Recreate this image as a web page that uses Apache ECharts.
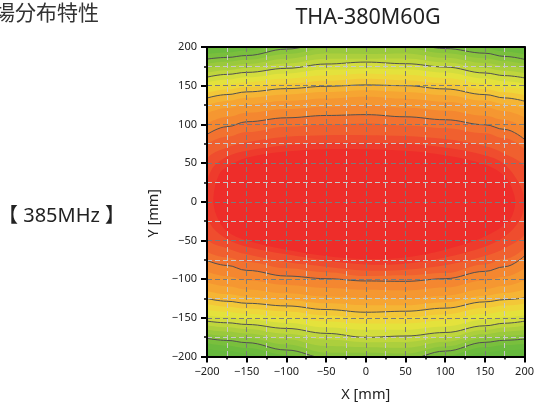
<!DOCTYPE html>
<html><head><meta charset="utf-8">
<script src="https://cdn.jsdelivr.net/npm/echarts@6/dist/echarts.min.js"></script>
<style>html,body{margin:0;padding:0;background:#fff}#c{width:537px;height:407px}</style>
</head><body><div id="c"></div>
<script>
// x positions (mm) where band boundaries were read
const xPos = [-200, -175, -150, -100, -50, 0, 50, 100, 150, 175, 200];
// upper boundaries (y, mm) of each field level
const top01 = [204, 206, 208.5, 217, 225, 227, 225, 218, 211.5, 207.5, 203.5];
const top02 = [197.5, 199.5, 202, 210, 218, 220, 218, 211, 205, 201, 197];
const top03 = [191, 193, 195.5, 204, 212, 214, 212, 205, 198.5, 194.3, 190.5];
const top04 = [184.4, 186.5, 189, 197.3, 205, 207, 205, 198, 192, 187.8, 184];
const top05 = [178.5, 181, 183.5, 191, 198.2, 197.7, 198.4, 192, 185.6, 181.6, 178];
const top06 = [172.7, 175.5, 178, 184.8, 191.5, 191, 191.7, 186, 179.2, 175.4, 172];
const top07 = [166.9, 170, 172.7, 178.6, 184.7, 184.8, 185, 180, 172.8, 169.2, 166];
const top08 = [161, 164.6, 167.2, 172.4, 178, 180.5, 178.4, 174.1, 166.4, 163, 160];
const top09 = [154.2, 158, 160.9, 165.9, 170.8, 172, 171.3, 167, 159.4, 155.8, 152.5];
const top10 = [147.5, 151.5, 154.6, 159.3, 163.6, 165.5, 164.2, 160, 152.5, 148.6, 145];
const top11 = [140.8, 145, 148.3, 152.8, 156.4, 159.1, 157.1, 152.9, 145.5, 141.4, 137.5];
const top12 = [134, 138.5, 142, 146.2, 149.2, 151, 150, 145.8, 138.5, 134.2, 130];
const top13 = [124.6, 130.2, 134.3, 138.7, 141.7, 144, 142, 137.8, 130.7, 126.1, 120.1];
const top14 = [114.3, 121.1, 125.8, 130.4, 133.4, 135.6, 133.1, 129.1, 122.1, 117.1, 109.3];
const top15 = [101.1, 109.5, 115, 119.8, 122.8, 124.8, 121.9, 118, 111.2, 105.7, 95.4];
const top16 = [87, 97, 103.4, 108.5, 111.5, 112.6, 109.8, 106, 99.5, 93.5, 80.6];
const top17 = [75, 84, 90, 97, 99.5, 101, 98.5, 95, 88.5, 82, 68];
// lower boundaries (y, mm) of each field level
const bot01 = [-197, -200, -203, -212, -222, -228, -225, -213, -202, -199, -197];
const bot02 = [-190, -193, -196, -205, -215, -221, -218, -206, -195, -192, -190.5];
const bot03 = [-183, -186, -189, -198, -208, -214, -211, -199, -188, -185.5, -184];
const bot04 = [-176.6, -179.2, -182.1, -191.6, -202, -207, -204, -193, -181.7, -179, -177.5];
const bot05 = [-171, -173.5, -176.2, -184.6, -195, -195, -196, -187, -176.4, -173.5, -171.7];
const bot06 = [-165.5, -167.8, -170.4, -177.7, -186.5, -188, -188.8, -181, -171, -168, -165.9];
const bot07 = [-159.9, -162.1, -164.5, -170.7, -178, -181.5, -181.1, -175, -165.7, -162.5, -160.1];
const bot08 = [-154.3, -156.4, -158.6, -163.7, -170.1, -175.2, -173.5, -169, -160.3, -157, -154.3];
const bot09 = [-147, -149.4, -151.8, -156.4, -162.4, -165.5, -165.5, -161.1, -152.6, -149.4, -146.8];
const bot10 = [-139.7, -142.5, -144.9, -149.2, -154.7, -157.5, -157.5, -153.3, -144.9, -141.8, -139.3];
const bot11 = [-132.3, -135.6, -138.1, -141.9, -147, -150, -149.5, -145.4, -137.1, -134.1, -131.8];
const bot12 = [-125, -128.6, -131.2, -134.6, -139.3, -142.8, -141.5, -137.5, -129.4, -126.5, -124.3];
const bot13 = [-115.2, -119.3, -122.7, -126.9, -131.3, -133.8, -133.8, -129.9, -121.5, -118, -113.4];
const bot14 = [-104.4, -109.2, -113.3, -118.4, -122.6, -124, -125.3, -121.5, -112.9, -108.7, -101.5];
const bot15 = [-90.6, -96.2, -101.5, -107.6, -111.4, -113.7, -114.5, -110.8, -101.8, -96.8, -86.3];
const bot16 = [-75.9, -82.3, -88.7, -96, -99.4, -102.4, -102.9, -99.4, -90, -84, -70];
const bot17 = [-65, -72, -78, -86, -91, -96, -95, -92, -81, -74, -60];
// closed inner level boundaries [x, y] (mm)
const loop18 = [[-212,0],[-200,55],[-175,70],[-150,77],[-100,84],[-50,86],[0,86],[50,85],[100,81],[150,72],[175,62],[200,45],[210,0],[200,-42],[175,-60],[150,-70],[100,-82],[50,-88],[0,-89],[-50,-84],[-100,-78],[-150,-68],[-175,-60],[-200,-48]];
const loop19 = [[-204,0],[-195,40],[-175,58],[-150,66],[-100,73],[-50,76],[0,76],[50,75],[100,70],[150,60],[175,48],[195,20],[199,0],[195,-22],[175,-45],[150,-58],[100,-72],[50,-80],[0,-81],[-50,-76],[-100,-68],[-150,-58],[-175,-48],[-195,-30]];
const loop20 = [[-192,5],[-185,35],[-175,45],[-150,57],[-100,65],[-50,68],[0,68],[50,66],[100,60],[150,48],[175,33],[186,12],[188,-5],[180,-25],[150,-45],[100,-62],[50,-72],[0,-74],[-50,-70],[-100,-62],[-150,-50],[-175,-38],[-188,-18]];
const contourLevels = [4, 8, 12, 16];
const axisTicks = [-200, -150, -100, -50, 0, 50, 100, 150, 200];

const levelColors = ['#62b73d','#66b93d','#6cbb3d','#79bf3d','#89c43d','#9ac93d','#accf3d','#bfd63d','#d3dd3e','#e4e23c','#eed73a','#f3c738','#f5b535','#f6a532','#f59731','#f48730','#f27230','#f0602f','#ef4d2e','#ee3b2c','#ee2d2a'];
const tops = [null, top01, top02, top03, top04, top05, top06, top07, top08, top09, top10, top11, top12, top13, top14, top15, top16, top17];
const bots = [null, bot01, bot02, bot03, bot04, bot05, bot06, bot07, bot08, bot09, bot10, bot11, bot12, bot13, bot14, bot15, bot16, bot17];
const loops = {18: loop18, 19: loop19, 20: loop20};

const FONT = '"Noto Sans", "Noto Sans CJK JP", sans-serif';
const pairs = arr => xPos.map((x, i) => [x, arr[i]]);
function fillSeries(arr, color, z) {
  return {type: 'line', data: pairs(arr), smooth: 0.4, smoothMonotone: 'x', symbol: 'none', silent: true,
    clip: true, z: z, lineStyle: {opacity: 0, width: 0}, areaStyle: {color: color, opacity: 1, origin: 'start'}};
}
const series = [];
for (let k = 1; k <= 17; k++) series.push(fillSeries(tops[k], levelColors[k], 1));
for (let k = 17; k >= 1; k--) series.push(fillSeries(bots[k], levelColors[k - 1], 1));
[18, 19, 20].forEach(k => {
  const pts = loops[k];
  series.push({type: 'custom', clip: true, silent: true, z: 1, data: [0],
    renderItem: (params, api) => {
      const cs = params.coordSys;
      return {type: 'group', clipPath: {type: 'rect', shape: {x: cs.x, y: cs.y, width: cs.width, height: cs.height}},
        children: [{type: 'polygon', shape: {points: pts.map(p => api.coord(p)), smooth: 0.35}, style: {fill: levelColors[k]}}]};
    }});
});
contourLevels.forEach(k => {
  [tops[k], bots[k]].forEach(arr => series.push({type: 'line', data: pairs(arr), smooth: 0.4, smoothMonotone: 'x',
    symbol: 'none', silent: true, clip: true, z: 3, lineStyle: {color: '#505050', width: 1}}));
});

const fmt = v => axisTicks.includes(v) ? (v < 0 ? '\u2212' + Math.abs(v) : String(v)) : '';
const mainAxis = (extra) => Object.assign({
  type: 'value', min: -200, max: 200, interval: 50, z: 10,
  axisLine: {show: true, onZero: false, lineStyle: {color: '#000', width: 2}},
  axisTick: {show: true, length: 6, lineStyle: {color: '#000', width: 2}},
  minorTick: {show: true, splitNumber: 2, length: 3, lineStyle: {color: '#000', width: 1.5}},
  splitLine: {show: true, lineStyle: {color: '#7a7a7a', width: 1, type: [5, 3]}},
  minorSplitLine: {show: true, lineStyle: {color: '#c8c8c8', width: 1, type: [5, 3]}},
  axisLabel: {formatter: fmt, fontSize: 11, color: '#222', fontFamily: FONT, margin: 10},
  nameLocation: 'middle', nameTextStyle: {fontSize: 14.5, color: '#222', fontFamily: FONT}
}, extra);
const borderAxis = (pos) => ({type: 'value', min: -200, max: 200, position: pos, z: 10,
  axisLine: {show: true, onZero: false, lineStyle: {color: '#000', width: 2}},
  axisTick: {show: false}, axisLabel: {show: false}, splitLine: {show: false}});

const chart = echarts.init(document.getElementById('c'), null, {renderer: 'canvas'});
chart.setOption({
  animation: false,
  backgroundColor: '#fff',
  grid: {left: 207, top: 47, width: 320, height: 311, show: true, backgroundColor: levelColors[0], borderWidth: 0},
  xAxis: [mainAxis({position: 'bottom', name: 'X [mm]', nameGap: 31}), borderAxis('top')],
  yAxis: [mainAxis({position: 'left', name: 'Y [mm]', nameGap: 33,
    nameTextStyle: {fontSize: 14.5, color: '#222', fontFamily: FONT, padding: [0, 23, 0, 0]}}), borderAxis('right')],
  graphic: [
    {type: 'text', style: {text: 'THA-380M60G', x: 368, y: 18, align: 'center', verticalAlign: 'middle', fontSize: 21.5, fontFamily: FONT, fill: '#222'}},
    {type: 'text', style: {text: '磁場分布特性', x: -27, y: 14, align: 'left', verticalAlign: 'middle', fontSize: 21, fontFamily: FONT, fill: '#333'}},
    {type: 'text', style: {text: '【 385MHz 】', x: -2, y: 216, align: 'left', verticalAlign: 'middle', fontSize: 20, fontFamily: FONT, fill: '#222'}}
  ],
  series: series
});
</script></body></html>
